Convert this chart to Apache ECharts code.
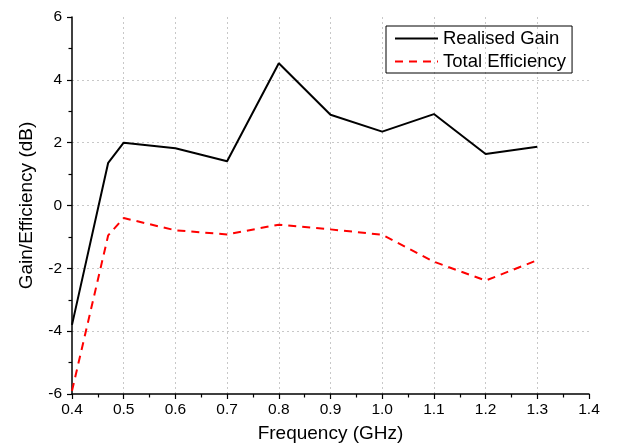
<!DOCTYPE html>
<html>
<head>
<meta charset="utf-8">
<script src="https://cdn.jsdelivr.net/npm/echarts@6/dist/echarts.min.js"></script>
<style>html,body{margin:0;padding:0;background:#fff}#c{width:617px;height:448px}</style>
</head>
<body>
<div id="c"></div>
<script>
var freqs = [0.4, 0.47, 0.5, 0.6, 0.7, 0.8, 0.9, 1.0, 1.1, 1.2, 1.3];
var realisedGain = [-3.8, 1.36, 2.0, 1.82, 1.41, 4.53, 2.89, 2.35, 2.91, 1.64, 1.87];
var totalEfficiency = [-5.9, -0.95, -0.4, -0.79, -0.92, -0.61, -0.76, -0.93, -1.79, -2.39, -1.74];
var seriesNames = ['Realised Gain', 'Total Efficiency'];
var xTitle = 'Frequency (GHz)';
var yTitle = 'Gain/Efficiency (dB)';

function pairs(xs, ys) { return xs.map(function (x, i) { return [x, ys[i]]; }); }
var FONT = '"Liberation Sans", Arial, sans-serif';
var chart = echarts.init(document.getElementById('c'), null, { renderer: 'canvas' });
chart.setOption({
  animation: false,
  backgroundColor: '#fff',
  grid: { left: 72, right: 28, top: 17, bottom: 52, containLabel: false },
  legend: {
    left: 386, top: 26, orient: 'vertical',
    padding: [3, 6, 2, 8], itemGap: 4, itemWidth: 43, itemHeight: 14,
    borderColor: '#000', borderWidth: 1,
    itemStyle: { opacity: 0 },
    textStyle: { fontFamily: FONT, fontSize: 18.5, color: '#000' },
    data: seriesNames
  },
  xAxis: {
    type: 'value', min: 0.4, max: 1.4, interval: 0.1,
    name: xTitle, nameLocation: 'middle', nameGap: 30,
    nameTextStyle: { fontFamily: FONT, fontSize: 19, color: '#000' },
    axisLine: { show: true, onZero: false, lineStyle: { color: '#000', width: 1.5 } },
    axisTick: { show: true, inside: false, length: 5, lineStyle: { color: '#000', width: 1.2 } },
    minorTick: { show: true, splitNumber: 2, length: 3.5, lineStyle: { color: '#000', width: 1.2 } },
    axisLabel: { fontFamily: FONT, fontSize: 15.5, color: '#000', margin: 8, formatter: function (v) { return v.toFixed(1); } },
    splitLine: { show: true, showMinLine: false, showMaxLine: false, lineStyle: { color: '#c8c8c8', type: [2, 3], width: 1 } }
  },
  yAxis: {
    type: 'value', min: -6, max: 6, interval: 2,
    name: yTitle, nameLocation: 'middle', nameGap: 36,
    nameTextStyle: { fontFamily: FONT, fontSize: 19, color: '#000' },
    axisLine: { show: true, onZero: false, lineStyle: { color: '#000', width: 1.5 } },
    axisTick: { show: true, inside: false, length: 5, lineStyle: { color: '#000', width: 1.2 } },
    minorTick: { show: true, splitNumber: 2, length: 3.5, lineStyle: { color: '#000', width: 1.2 } },
    axisLabel: { fontFamily: FONT, fontSize: 15.5, color: '#000', margin: 10 },
    splitLine: { show: true, showMinLine: false, showMaxLine: false, lineStyle: { color: '#c8c8c8', type: [2, 3], width: 1 } }
  },
  series: [
    {
      name: seriesNames[0], type: 'line', data: pairs(freqs, realisedGain),
      symbol: 'none', color: '#000',
      lineStyle: { color: '#000', width: 2 }
    },
    {
      name: seriesNames[1], type: 'line', data: pairs(freqs, totalEfficiency),
      symbol: 'none', color: '#ff0000',
      lineStyle: { color: '#ff0000', width: 2, type: [8, 6] }
    }
  ]
});
</script>
</body>
</html>
